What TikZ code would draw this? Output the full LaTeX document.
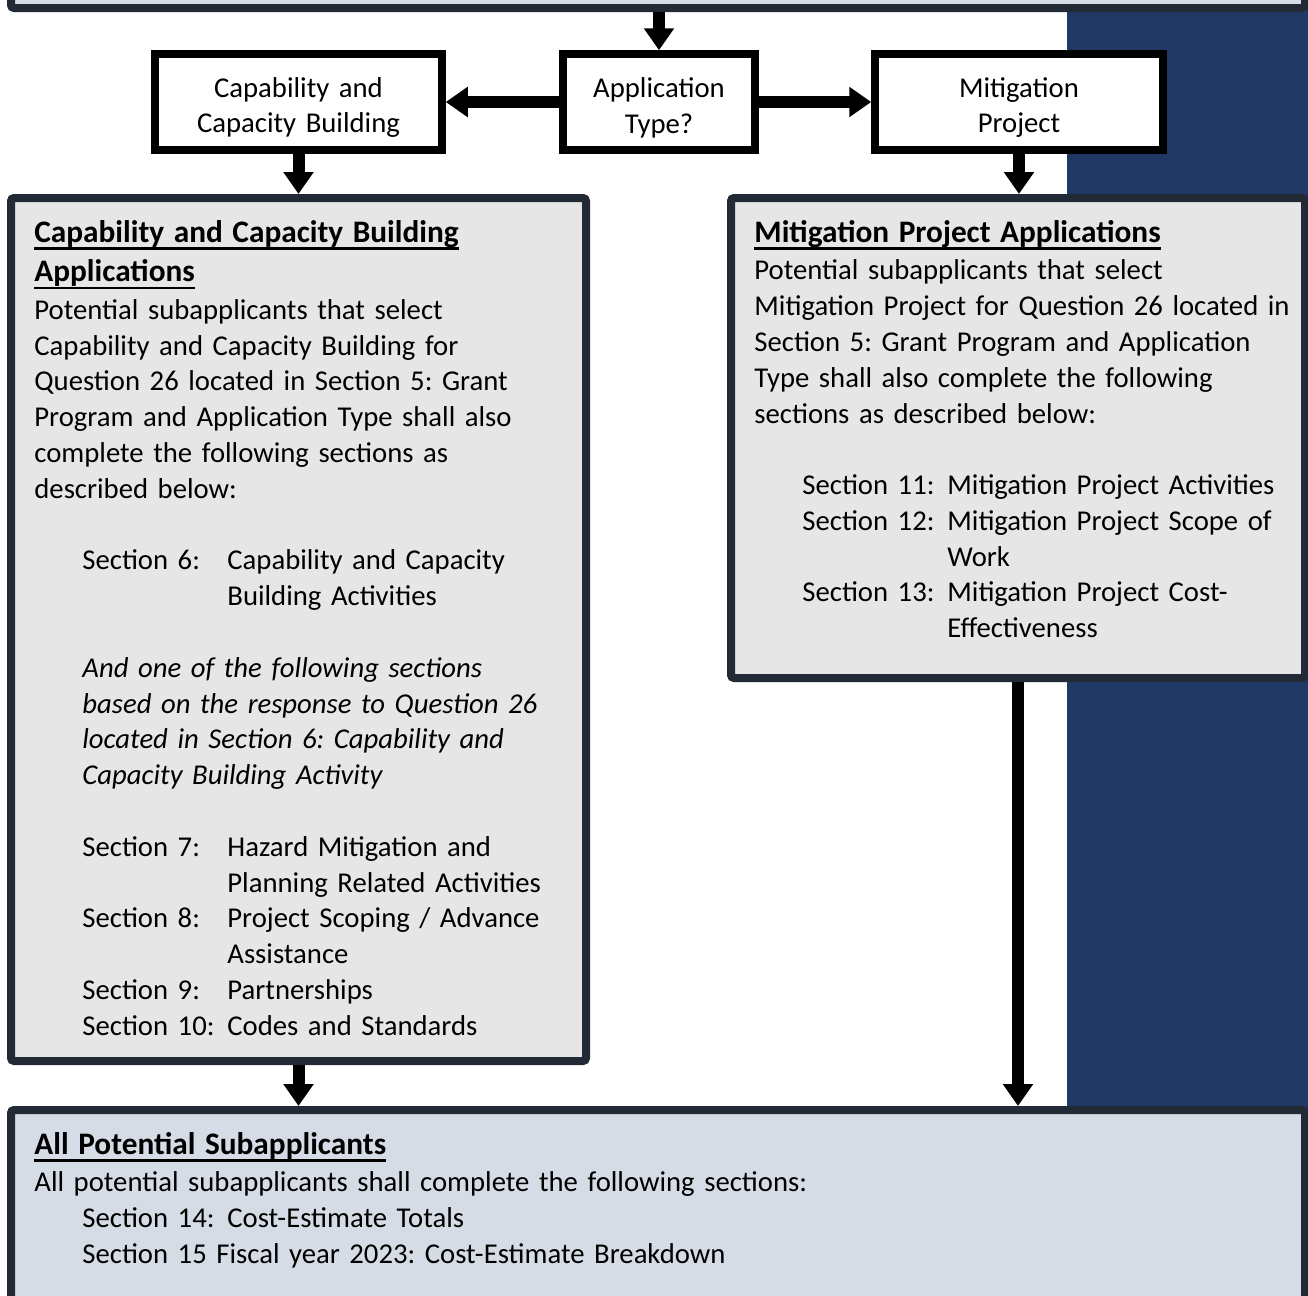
\documentclass[tikz,border=0pt]{standalone}
\usepackage{fontspec}
\setmainfont{Carlito}
\usepackage{tikz}
\usepackage{xcolor}
\usetikzlibrary{arrows.meta}
\usetikzlibrary{positioning}

\definecolor{panelline}{RGB}{34,42,53}
\definecolor{panelgray}{RGB}{231,230,230}
\definecolor{slatefill}{RGB}{214,220,229}
\definecolor{navyband}{RGB}{32,56,100}

\frenchspacing
\newcommand\bodysize{\fontsize{14.35pt}{17.9pt}\selectfont}
\newcommand\headsize{\fontsize{15.65pt}{19.75pt}\selectfont\bfseries}
\newcommand\ulhead[1]{\setbox0=\hbox{#1}\rlap{\rule[-3.8pt]{\wd0}{1.3pt}}\box0}
\newcommand\secline[2]{{\leftskip=24pt\hangindent=72.5pt\hangafter=1\noindent\makebox[72.5pt][l]{#1}#2\par}}
\newcommand\gapline{\vspace{17.9pt}}
\newcommand\boxstrut{\rule{0pt}{15.5pt}}

\begin{document}
\begin{tikzpicture}[x=0.5pt,y=-0.5pt,
  panel/.style={draw=panelline,line width=4pt,fill=panelgray,rounded corners=1.5pt,inner sep=0pt},
  choice/.style={draw=black,line width=3.75pt,fill=white,minimum height=48pt,inner sep=0pt,align=center,font=\bodysize},
  bodytext/.style={anchor=base west,inner sep=0pt,align=left,font=\bodysize},
  flow/.style={line width=6pt,-{Triangle[length=11pt,width=14.5pt]}}]
\useasboundingbox (0,0) rectangle (1308,1296);

\fill[navyband] (1067,0) rectangle (1320,1110);

\node[panel,fill=slatefill,minimum width=647pt,minimum height=30pt] (top) at (658,-22) {};
\node[panel,minimum width=287.5pt,minimum height=431.5pt] (capapp) at (298.5,629.5) {};
\node[panel,minimum width=287pt,minimum height=240pt] (mitapp) at (1018,438) {};
\node[panel,fill=slatefill,minimum width=647pt,minimum height=120pt] (allsub) at (658,1230) {};

\node[choice,minimum width=143.5pt,text width=140pt] (cap) at (298.5,102) {\boxstrut Capability and\\Capacity Building};
\node[choice,minimum width=96pt,text width=90pt] (app) at (659,102) {\boxstrut Application\\Type?};
\node[choice,minimum width=144pt,text width=140pt] (mit) at (1019,102) {\boxstrut Mitigation\\Project};

\draw[flow] (top.south -| app.north) -- (app.north);
\draw[flow] (app.west) -- (cap.east |- app.west);
\draw[flow] (app.east) -- (mit.west |- app.east);
\draw[flow] (cap.south) -- (cap.south |- capapp.north);
\draw[flow] (mit.south) -- (mit.south |- mitapp.north);
\draw[flow] (capapp.south) -- (capapp.south |- allsub.north);
\draw[flow] (mitapp.south) -- (mitapp.south |- allsub.north);

\node[bodytext,text width=280pt] (captext) at (34,242) {%
{\headsize\ulhead{Capability and Capacity Building}\newline\ulhead{Applications}\par}
\vspace{1pt}
Potential subapplicants that select\newline
Capability and Capacity Building for\newline
Question 26 located in Section 5: Grant\newline
Program and Application Type shall also\newline
complete the following sections as\newline
described below:\par
\gapline
\secline{Section 6:}{Capability and Capacity\newline Building Activities}
\gapline
{\leftskip=24pt\itshape And one of the following sections\newline
based on the response to Question 26\newline
located in Section 6: Capability and\newline
Capacity Building Activity\par}
\gapline
\secline{Section 7:}{Hazard Mitigation and\newline Planning Related Activities}
\secline{Section 8:}{Project Scoping / Advance\newline Assistance}
\secline{Section 9:}{Partnerships}
\secline{Section 10:}{Codes and Standards}};

\node[bodytext,text width=280pt] (mittext) at (754,242) {%
{\headsize\ulhead{Mitigation Project Applications}\par}
\vspace{1pt}
Potential subapplicants that select\newline
Mitigation Project for Question 26 located in\newline
Section 5: Grant Program and Application\newline
Type shall also complete the following\newline
sections as described below:\par
\gapline
\secline{Section 11:}{Mitigation Project Activities}
\secline{Section 12:}{Mitigation Project Scope of\newline Work}
\secline{Section 13:}{Mitigation Project Cost-\newline Effectiveness}};

\node[bodytext,text width=600pt] (alltext) at (34,1154) {%
{\headsize\ulhead{All Potential Subapplicants}\par}
\vspace{1pt}
All potential subapplicants shall complete the following sections:\par
\secline{Section 14:}{Cost-Estimate Totals}
{\leftskip=24pt Section 15 Fiscal year 2023: Cost-Estimate Breakdown\par}};
\end{tikzpicture}
\end{document}
